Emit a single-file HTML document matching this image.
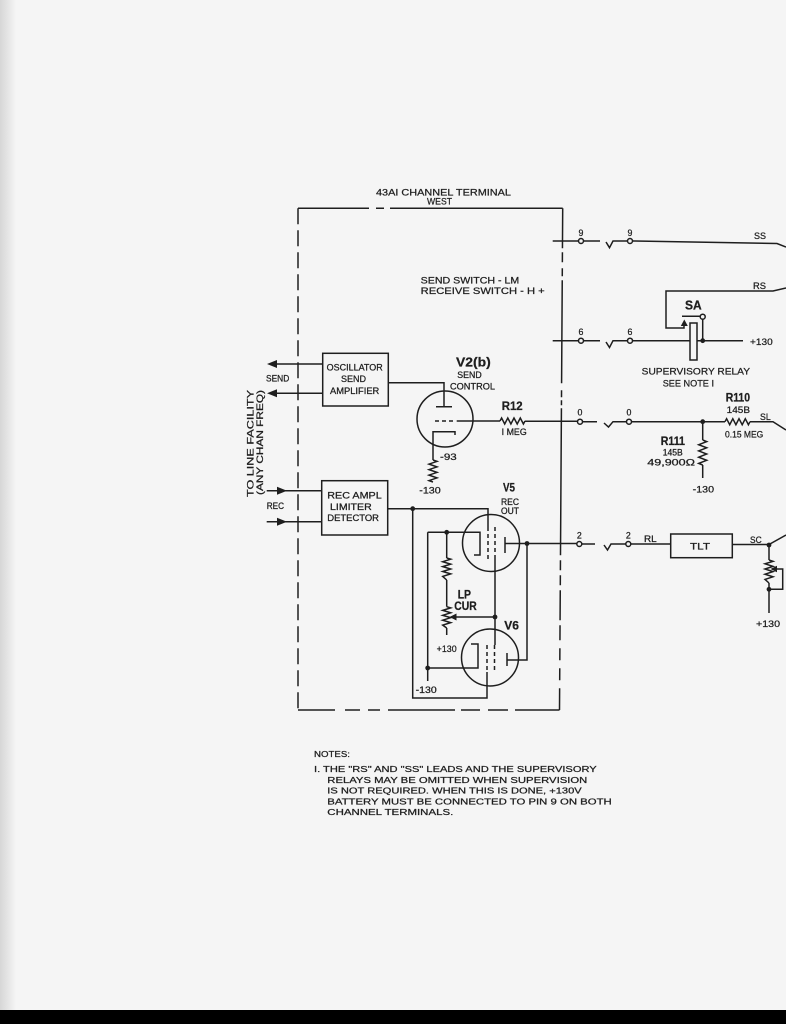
<!DOCTYPE html>
<html><head><meta charset="utf-8">
<style>
html,body{margin:0;padding:0;background:#f5f5f5;}
svg{display:block;}
text{font-family:"Liberation Sans",sans-serif;fill:#1e1e1e;font-size:9.6px;stroke:#1e1e1e;stroke-width:0.25px;}
.b{font-weight:bold;font-size:11.5px;}
.s{font-size:8.8px;}
.n{font-size:8.6px;}
</style></head><body>
<svg width="786" height="1024" viewBox="0 0 786 1024" xmlns="http://www.w3.org/2000/svg">
<defs>
<linearGradient id="lg" x1="0" x2="1" y1="0" y2="0">
<stop offset="0" stop-color="#d6d6d6"/><stop offset="1" stop-color="#f5f5f5"/>
</linearGradient>
</defs>
<rect width="786" height="1024" fill="#f5f5f5"/>
<rect x="0" y="0" width="16" height="1010" fill="url(#lg)"/>
<rect x="0" y="1010" width="786" height="14" fill="#000"/>

<g stroke="#1e1e1e" stroke-width="1.5" fill="none">
<!-- box -->
<path d="M298,208.3 H369 M376,208.3 H384 M390,208.3 H562.7"/>
<line x1="298" y1="208.3" x2="298" y2="710" stroke-dasharray="16 6"/>
<line x1="562.7" y1="208.3" x2="559.5" y2="710" stroke-dasharray="40 4 10 6 8 4 103 7 7 3 5 3 147 5 10 5 10 5 30 5 15 8 12 8 12 8 22 100"/>
<path d="M298,710 H335 M345,710 H360 M368,710 H380 M388,710 H455 M461,710 H480 M488,710 H508 M515,710 H559.5"/>

<!-- pin 9 -->
<path d="M552.7,241 H578.5 M583.5,241 H600 M606,242 L609.5,247.7 L613,241 H627.5 M632.5,241 L777,243.5 L786,247"/>
<circle cx="581" cy="241" r="2.5" fill="#f5f5f5"/>
<circle cx="630" cy="241" r="2.5" fill="#f5f5f5"/>

<!-- RS -->
<path d="M786,288 L773,291 H666 V328 H684 V326"/>
<!-- pin 6 -->
<path d="M552.7,340.7 H578.5 M583.5,340.7 H600 M606,342 L609.5,347.5 L613,340.7 H627.5 M632.5,340.7 H743"/>
<circle cx="581" cy="340.7" r="2.5" fill="#f5f5f5"/>
<circle cx="630" cy="340.7" r="2.5" fill="#f5f5f5"/>
<!-- relay -->
<path d="M682,316.2 H700.2 M702.7,319.2 V340.7"/>
<circle cx="702.7" cy="316.7" r="2.5" fill="#f5f5f5"/>
<rect x="690" y="323" width="7" height="37" fill="#f5f5f5"/>

<!-- oscillator -->
<rect x="322.7" y="353.3" width="65.6" height="52.7"/>
<path d="M388.3,382.7 H444 V406.7 M436,406.7 H452"/>
<path d="M322.7,364 H276 M322.7,393.3 H276"/>

<!-- V2 -->
<circle cx="445" cy="419" r="28"/>
<path d="M435,421 H439 M442,421 H446 M449,421 H453 M456.7,421 H500"/>
<polyline points="500,421 501.6,418 504.7,424 507.8,418 510.9,424 514,418 517.2,424 520.3,418 523.4,424 525,421"/>
<path d="M525,421.3 H577.5 M582.5,421.7 H597 M604,423 L608.5,427 L613,421.7 H626.5 M631.5,421.7 H725"/>
<circle cx="580" cy="421.7" r="2.5" fill="#f5f5f5"/>
<circle cx="629" cy="421.7" r="2.5" fill="#f5f5f5"/>
<polyline points="725,421.7 726.6,418.7 729.7,424.7 732.8,418.7 735.9,424.7 739,418.7 742.2,424.7 745.3,418.7 748.4,424.7 750,421.7"/>
<path d="M750,421.7 H773 L786,430"/>
<path d="M702.7,421.7 V440"/>
<polyline points="702.7,440 706.7,441.6 698.7,444.7 706.7,447.8 698.7,450.9 706.7,454 698.7,457.2 706.7,460.3 698.7,463.4 702.7,465"/>
<path d="M702.7,465 V478"/>
<path d="M455,435 V431.7 H433 V460"/>
<polyline points="433,460 437,461.4 429,464.1 437,466.9 429,469.6 437,472.4 429,475.1 437,477.9 429,480.6 433,482"/>

<!-- REC box -->
<rect x="321.7" y="480.7" width="66" height="54.3"/>
<path d="M266.7,490.7 H321.7 M266.7,521.7 H321.7"/>
<path d="M387.7,508.7 H488 V527"/>
<path d="M488,527 V560" stroke-dasharray="4 3"/>
<!-- V5 -->
<circle cx="491" cy="543" r="28.5"/>
<path d="M495,527 V557" stroke-dasharray="4 3"/>
<path d="M495,557 V645"/>
<path d="M494.5,645 V672" stroke-dasharray="4 3"/>
<path d="M427.7,532.3 H480 V555 H474"/>
<path d="M427.7,532.3 V681"/>
<path d="M427.7,668 H478 V644 H471"/>
<path d="M505,537 V553 M505,543.5 H576.8 M581.8,544 H595 M604,545 L607.5,550 L611,544 H625.8 M630.8,544 H670.7"/>
<circle cx="579.3" cy="544" r="2.5" fill="#f5f5f5"/>
<circle cx="628.3" cy="544" r="2.5" fill="#f5f5f5"/>
<path d="M507,653 V666 M507,660 H527 V543.5"/>
<!-- V6 -->
<circle cx="490" cy="657.5" r="28.5"/>
<path d="M487,645 V672" stroke-dasharray="4 3"/>
<path d="M487,672 V698 H412.7 V508.7"/>
<!-- pot -->
<path d="M446.7,532.3 V558"/>
<polyline points="446.7,558 450.7,559.2 442.7,561.7 450.7,564.1 442.7,566.6 450.7,569 442.7,571.5 450.7,573.9 442.7,576.4 446.7,580"/>
<path d="M446.7,580 V606.7"/>
<polyline points="446.7,606.7 450.7,607.9 442.7,610.4 450.7,612.8 442.7,615.3 450.7,617.7 442.7,620.2 450.7,622.6 442.7,625.1 446.7,628"/>
<path d="M446.7,628 V635"/>
<path d="M495,617 H456"/>

<!-- TLT -->
<rect x="670.7" y="534" width="61.6" height="23.7"/>
<path d="M732.3,544.5 H769 L786,535"/>
<path d="M769,545 V560"/>
<polyline points="769,560 773,561.3 765,563.8 773,566.4 765,569 773,571.6 765,574.2 773,576.8 765,579.4 769,583"/>
<path d="M769,583 V613"/>
<path d="M777,569 H782.7 V589.3 H769"/>
</g>

<g fill="#1e1e1e">
<polygon points="267,364 277,360 277,368"/>
<polygon points="267,393.3 277,389.3 277,397.3"/>
<polygon points="287,490.7 277,486.7 277,494.7"/>
<polygon points="287,521.7 277,517.7 277,525.7"/>
<polygon points="684.3,319.5 680.8,326 687.8,326"/>
<polygon points="449.5,617 456.5,613.5 456.5,620.5"/>
<polygon points="770.5,569 777,565.8 777,572.2"/>
<circle cx="702.7" cy="340.7" r="2.4"/>
<circle cx="702.7" cy="421.7" r="2.4"/>
<circle cx="412.7" cy="508.7" r="2.4"/>
<circle cx="446.7" cy="532.3" r="2.4"/>
<circle cx="527" cy="543.5" r="2.4"/>
<circle cx="495" cy="617" r="2.4"/>
<circle cx="427.7" cy="668" r="2.4"/>
<circle cx="769" cy="545" r="2.4"/>
<circle cx="769" cy="589.3" r="2.4"/>
</g>

<!-- labels -->
<text x="376" y="195.5" textLength="135" lengthAdjust="spacingAndGlyphs">43AI CHANNEL TERMINAL</text>
<text x="427" y="204.5" textLength="25" lengthAdjust="spacingAndGlyphs">WEST</text>
<text x="420.7" y="283.5" textLength="98.6" lengthAdjust="spacingAndGlyphs">SEND SWITCH - LM</text>
<text x="420.7" y="294" textLength="124" lengthAdjust="spacingAndGlyphs">RECEIVE SWITCH - H +</text>

<text x="581" y="236" text-anchor="middle" class="s">9</text>
<text x="630" y="236" text-anchor="middle" class="s">9</text>
<text x="581" y="335" text-anchor="middle" class="s">6</text>
<text x="630" y="335" text-anchor="middle" class="s">6</text>
<text x="580" y="415.5" text-anchor="middle" class="s">0</text>
<text x="629" y="415.5" text-anchor="middle" class="s">0</text>
<text x="579.3" y="538.5" text-anchor="middle" class="s">2</text>
<text x="628.3" y="538.5" text-anchor="middle" class="s">2</text>

<text x="754" y="239" textLength="12" lengthAdjust="spacingAndGlyphs">SS</text>
<text x="753" y="289" textLength="13" lengthAdjust="spacingAndGlyphs">RS</text>
<text x="685" y="309.5" class="b" style="font-size:12.5px" textLength="16.7" lengthAdjust="spacingAndGlyphs">SA</text>
<text x="750" y="345" textLength="22.7" lengthAdjust="spacingAndGlyphs">+130</text>
<text x="641.7" y="374.5" textLength="108.3" lengthAdjust="spacingAndGlyphs">SUPERVISORY RELAY</text>
<text x="662.7" y="386.5" textLength="51.3" lengthAdjust="spacingAndGlyphs">SEE NOTE I</text>

<text x="326.7" y="370.5" class="s" textLength="56" lengthAdjust="spacingAndGlyphs">OSCILLATOR</text>
<text x="341" y="382" class="s" textLength="25" lengthAdjust="spacingAndGlyphs">SEND</text>
<text x="330" y="394" class="s" textLength="49.3" lengthAdjust="spacingAndGlyphs">AMPLIFIER</text>
<text x="266" y="381.5" class="s" textLength="23.3" lengthAdjust="spacingAndGlyphs">SEND</text>
<text transform="translate(253.5,497) rotate(-90)" textLength="107" lengthAdjust="spacingAndGlyphs">TO LINE FACILITY</text>
<text transform="translate(263,495) rotate(-90)" class="s" textLength="105" lengthAdjust="spacingAndGlyphs">(ANY CHAN FREQ)</text>
<text x="327.3" y="498.5" class="s" textLength="54.4" lengthAdjust="spacingAndGlyphs">REC AMPL</text>
<text x="330" y="510" class="s" textLength="41.7" lengthAdjust="spacingAndGlyphs">LIMITER</text>
<text x="327.3" y="521" class="s" textLength="51.7" lengthAdjust="spacingAndGlyphs">DETECTOR</text>
<text x="266.7" y="509" class="s" textLength="17.3" lengthAdjust="spacingAndGlyphs">REC</text>

<text x="456" y="366.7" class="b" style="font-size:12.5px" textLength="34.7" lengthAdjust="spacingAndGlyphs">V2(b)</text>
<text x="457.3" y="378" class="s" textLength="24.4" lengthAdjust="spacingAndGlyphs">SEND</text>
<text x="450" y="389.5" class="s" textLength="45" lengthAdjust="spacingAndGlyphs">CONTROL</text>
<text x="501.7" y="410" class="b" textLength="21" lengthAdjust="spacingAndGlyphs">R12</text>
<text x="501.7" y="435" class="s" textLength="25" lengthAdjust="spacingAndGlyphs">I MEG</text>
<text x="440" y="460" class="s" textLength="16.7" lengthAdjust="spacingAndGlyphs">-93</text>
<text x="419.3" y="493.5" class="s" textLength="21.4" lengthAdjust="spacingAndGlyphs">-130</text>

<text x="725.7" y="401.7" class="b" textLength="24.3" lengthAdjust="spacingAndGlyphs">R110</text>
<text x="726.7" y="413" class="s" textLength="23.3" lengthAdjust="spacingAndGlyphs">145B</text>
<text x="760" y="420" class="s" textLength="10.7" lengthAdjust="spacingAndGlyphs">SL</text>
<text x="725" y="437.5" class="s" textLength="38.3" lengthAdjust="spacingAndGlyphs">0.15 MEG</text>
<text x="660.7" y="445" class="b" textLength="24.3" lengthAdjust="spacingAndGlyphs">R111</text>
<text x="662.7" y="455.5" class="s" textLength="20" lengthAdjust="spacingAndGlyphs">145B</text>
<text x="647.3" y="465.5" class="s" textLength="47.7" lengthAdjust="spacingAndGlyphs">49,900Ω</text>
<text x="692.7" y="492.5" class="s" textLength="21.3" lengthAdjust="spacingAndGlyphs">-130</text>

<text x="503" y="491.7" class="b" textLength="12" lengthAdjust="spacingAndGlyphs">V5</text>
<text x="501" y="505" class="s" textLength="18" lengthAdjust="spacingAndGlyphs">REC</text>
<text x="501" y="514" class="s" textLength="18" lengthAdjust="spacingAndGlyphs">OUT</text>
<text x="457.7" y="598.3" class="b" textLength="13.3" lengthAdjust="spacingAndGlyphs">LP</text>
<text x="454.3" y="610" class="b" textLength="22.4" lengthAdjust="spacingAndGlyphs">CUR</text>
<text x="504.3" y="629.3" class="b" textLength="14.7" lengthAdjust="spacingAndGlyphs">V6</text>
<text x="436.7" y="652" class="s" textLength="20" lengthAdjust="spacingAndGlyphs">+130</text>
<text x="415.7" y="693" class="s" textLength="21" lengthAdjust="spacingAndGlyphs">-130</text>

<text x="644" y="542" class="s" textLength="12.7" lengthAdjust="spacingAndGlyphs">RL</text>
<text x="690" y="549.5" class="s" textLength="20" lengthAdjust="spacingAndGlyphs">TLT</text>
<text x="750" y="543" class="s" textLength="11.7" lengthAdjust="spacingAndGlyphs">SC</text>
<text x="756" y="627" textLength="24" lengthAdjust="spacingAndGlyphs">+130</text>

<!-- notes -->
<text x="314" y="757" class="n" textLength="36" lengthAdjust="spacingAndGlyphs">NOTES:</text>
<text x="314" y="772" class="n" textLength="282.7" lengthAdjust="spacingAndGlyphs">I. THE "RS" AND "SS" LEADS AND THE SUPERVISORY</text>
<text x="327.3" y="783" class="n" textLength="260" lengthAdjust="spacingAndGlyphs">RELAYS MAY BE OMITTED WHEN SUPERVISION</text>
<text x="327.3" y="793.5" class="n" textLength="254.4" lengthAdjust="spacingAndGlyphs">IS NOT REQUIRED. WHEN THIS IS DONE, +130V</text>
<text x="327.3" y="804.5" class="n" textLength="284.4" lengthAdjust="spacingAndGlyphs">BATTERY MUST BE CONNECTED TO PIN 9 ON BOTH</text>
<text x="327.3" y="815" class="n" textLength="126" lengthAdjust="spacingAndGlyphs">CHANNEL TERMINALS.</text>
</svg>
</body></html>
